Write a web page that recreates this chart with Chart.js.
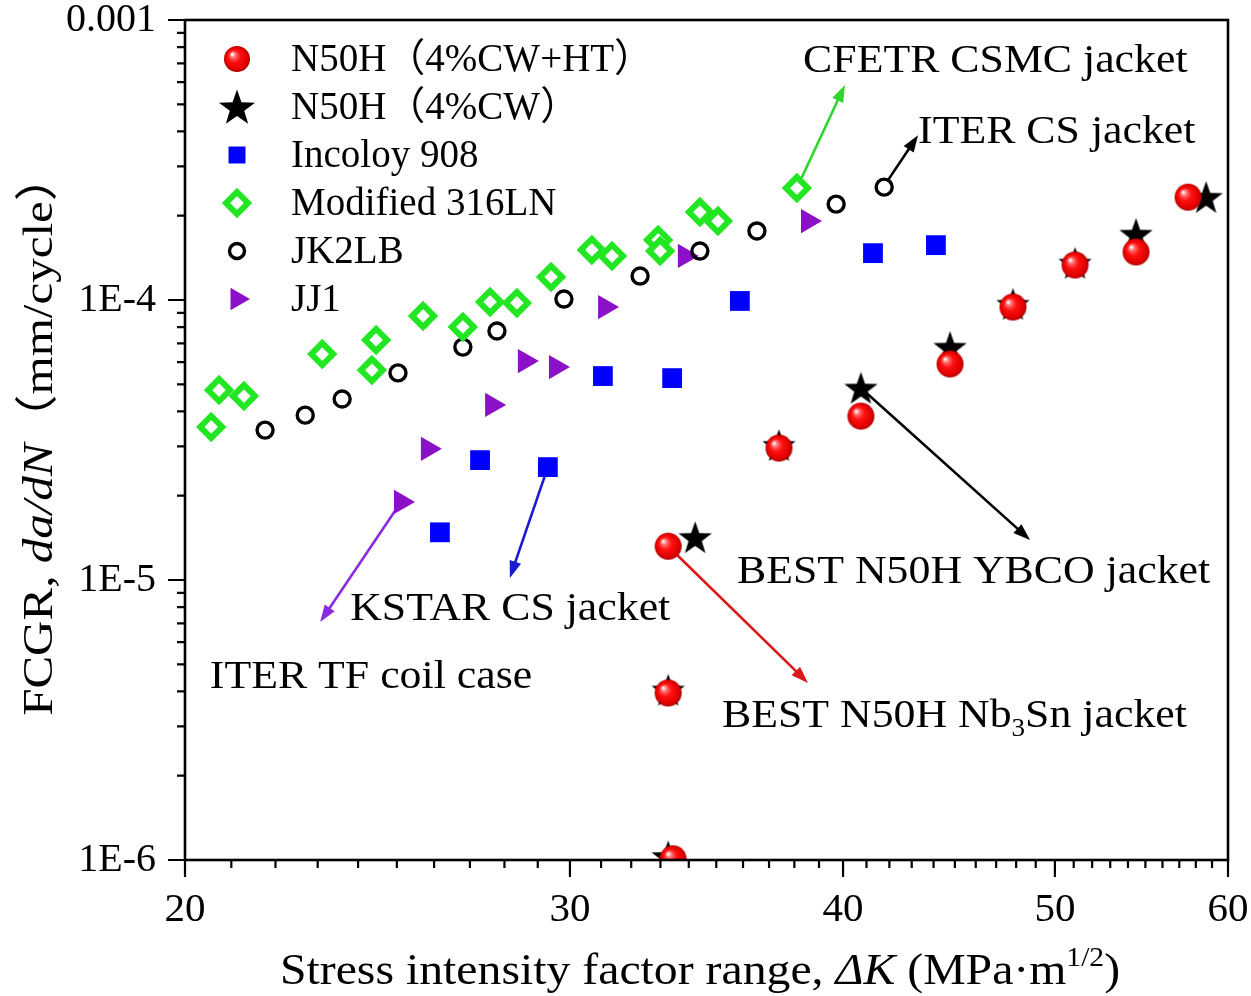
<!DOCTYPE html>
<html>
<head>
<meta charset="utf-8">
<script src="https://cdn.jsdelivr.net/npm/chart.js@4.4.1/dist/chart.umd.min.js"></script>
<style>
  html, body { margin: 0; padding: 0; background: #ffffff; }
  canvas { display: block; }
</style>
</head>
<body>
<canvas id="fcgr" width="1251" height="996"></canvas>
<script>
// ---- data: stress intensity factor range ΔK (MPa·m^1/2) vs. da/dN (mm/cycle) ----
const cwhtK   = [33.27, 33.27, 33.44, 37.39, 40.76, 44.77, 47.84, 51.07, 54.46, 57.53];
const cwhtRate = [1.32e-5, 3.95e-6, 1.01e-6, 2.96e-5, 3.85e-5, 5.91e-5, 9.44e-5, 1.334e-4, 1.484e-4, 2.33e-4];

const cwK    = [34.23, 33.27, 33.27, 37.39, 40.76, 44.77, 47.84, 51.07, 54.46, 58.63];
const cwRate = [1.42e-5, 4.05e-6, 1.03e-6, 3.03e-5, 4.85e-5, 6.79e-5, 9.67e-5, 1.356e-4, 1.72e-4, 2.33e-4];

const incoloyK    = [26.16, 27.29, 29.31, 31.06, 33.41, 35.88, 41.28, 44.11];
const incoloyRate = [1.48e-5, 2.68e-5, 2.53e-5, 5.35e-5, 5.26e-5, 9.92e-5, 1.47e-4, 1.57e-4];

const ss316K    = [20.56, 20.73, 21.28, 23.11, 24.46, 24.35, 25.70, 26.80, 27.58, 28.37, 29.41, 30.70, 31.36, 32.92, 32.99, 34.40, 35.06, 38.10];
const ss316Rate = [3.52e-5, 4.77e-5, 4.54e-5, 6.41e-5, 7.20e-5, 5.62e-5, 8.77e-5, 8.01e-5, 9.84e-5, 9.76e-5, 1.209e-4, 1.51e-4, 1.436e-4, 1.638e-4, 1.496e-4, 2.06e-4, 1.914e-4, 2.51e-4];

const jk2lbK    = [21.76, 22.70, 23.60, 25.03, 26.80, 27.78, 29.81, 32.30, 34.40, 36.53, 39.71, 41.77];
const jk2lbRate = [3.43e-5, 3.88e-5, 4.43e-5, 5.49e-5, 6.79e-5, 7.75e-5, 1.008e-4, 1.218e-4, 1.496e-4, 1.764e-4, 2.20e-4, 2.53e-4];

const jj1K    = [25.11, 25.83, 27.64, 28.61, 29.56, 31.13, 33.86, 38.55];
const jj1Rate = [1.90e-5, 2.94e-5, 4.22e-5, 6.05e-5, 5.76e-5, 9.44e-5, 1.436e-4, 1.914e-4];

const seriesNames = ['N50H（4%CW+HT）', 'N50H（4%CW）', 'Incoloy 908', 'Modified 316LN', 'JK2LB', 'JJ1'];

// ---- axes ----
const xTickValues = [20, 30, 40, 50, 60];
const xTickLabels = ['20', '30', '40', '50', '60'];
const yTickValues = [1e-6, 1e-5, 1e-4, 1e-3];
const yTickLabels = ['1E-6', '1E-5', '1E-4', '0.001'];
const xMinorTicks = [21, 22, 23, 24, 25, 26, 27, 28, 29, 31, 32, 33, 34, 35, 36, 37, 38, 39,
                     41, 42, 43, 44, 45, 46, 47, 48, 49, 51, 52, 53, 54, 55, 56, 57, 58, 59];
const yMinorMantissa = [2, 3, 4, 5, 6, 7, 8, 9];
const yDecades = [1e-6, 1e-5, 1e-4];

const SERIF = '"Liberation Serif", "Times New Roman", "Noto Sans CJK SC", serif';

// ---- annotation callouts (anchored in data units) ----
const callouts = [
  { label: [{ t: 'CFETR CSMC jacket' }], at: [38.35, 6.52e-4], from: [38.10, 2.51e-4], to: [40.08, 5.86e-4], color: '#2fd62f' },
  { label: [{ t: 'ITER CS jacket' }], at: [43.29, 3.64e-4], from: [41.94, 2.68e-4], to: [43.29, 3.88e-4], color: '#000000' },
  { label: [{ t: 'BEST N50H YBCO jacket' }], at: [35.77, 9.75e-6], from: [40.76, 4.85e-5], to: [48.71, 1.39e-5], color: '#000000' },
  { label: [{ t: 'BEST N50H Nb' }, { t: '3', sub: true }, { t: 'Sn jacket' }], at: [35.21, 2.99e-6], from: [33.27, 1.32e-5], to: [38.55, 4.29e-6], color: '#dd1818' },
  { label: [{ t: 'KSTAR CS jacket' }], at: [23.80, 7.2e-6], from: [29.31, 2.53e-5], to: [28.16, 1.017e-5], color: '#1a1ad0' },
  { label: [{ t: 'ITER TF coil case' }], at: [20.53, 4.11e-6], from: [25.11, 1.90e-5], to: [23.06, 7.08e-6], color: '#8a2be2' }
];

// ---- marker sprites ----
function makeSphere(r) {
  const c = document.createElement('canvas');
  c.width = c.height = 2 * r + 2;
  const g = c.getContext('2d');
  const m = r + 1;
  const grd = g.createRadialGradient(m - r * 0.38, m - r * 0.38, r * 0.04, m, m, r);
  grd.addColorStop(0, '#ffffff');
  grd.addColorStop(0.18, '#ff7070');
  grd.addColorStop(0.45, '#ff1010');
  grd.addColorStop(0.85, '#e00000');
  grd.addColorStop(1, '#a80000');
  g.fillStyle = grd;
  g.beginPath();
  g.arc(m, m, r, 0, Math.PI * 2);
  g.fill();
  return c;
}
function makeStar(R, ri) {
  const c = document.createElement('canvas');
  c.width = c.height = 2 * R + 2;
  const g = c.getContext('2d');
  const m = R + 1;
  g.fillStyle = '#000000';
  g.beginPath();
  for (let i = 0; i < 10; i++) {
    const rad = (i % 2 === 0) ? R : ri;
    const a = -Math.PI / 2 + i * Math.PI / 5;
    const px = m + rad * Math.cos(a), py = m + 1.5 + rad * Math.sin(a);
    if (i === 0) g.moveTo(px, py); else g.lineTo(px, py);
  }
  g.closePath();
  g.fill();
  return c;
}
const sphereImg = makeSphere(13.5);
const starImg = makeStar(17.5, 7);
const sphereLegend = makeSphere(13);
const starLegend = makeStar(19, 7.6);

function pairs(xs, ys) { return xs.map((x, i) => ({ x: x, y: ys[i] })); }

// ---- rich text helper (italic / sup / sub segments, optional horizontal stretch) ----
function segFont(s, size) {
  const sz = (s.sup || s.sub) ? size * 0.62 : size;
  return (s.italic ? 'italic ' : '') + sz + 'px ' + SERIF;
}
function drawRich(ctx, segs, x, y, size, align, sx) {
  sx = sx || 1;
  let total = 0;
  segs.forEach(s => { ctx.font = segFont(s, size); total += ctx.measureText(s.t).width; });
  ctx.save();
  ctx.translate(x, y);
  ctx.scale(sx, 1);
  let cx = align === 'center' ? -total / 2 : 0;
  ctx.textBaseline = 'alphabetic';
  ctx.textAlign = 'left';
  segs.forEach(s => {
    ctx.font = segFont(s, size);
    const dy = s.sup ? -size * 0.42 : (s.sub ? size * 0.22 : 0);
    ctx.fillText(s.t, cx, dy);
    cx += ctx.measureText(s.t).width;
  });
  ctx.restore();
}
function arrow(ctx, x1, y1, x2, y2, color) {
  const ang = Math.atan2(y2 - y1, x2 - x1);
  const hl = 17, hw = 6;
  ctx.save();
  ctx.strokeStyle = color;
  ctx.fillStyle = color;
  ctx.lineWidth = 2.6;
  ctx.beginPath();
  ctx.moveTo(x1, y1);
  ctx.lineTo(x2 - hl * 0.8 * Math.cos(ang), y2 - hl * 0.8 * Math.sin(ang));
  ctx.stroke();
  ctx.beginPath();
  ctx.moveTo(x2, y2);
  ctx.lineTo(x2 - hl * Math.cos(ang) + hw * Math.sin(ang), y2 - hl * Math.sin(ang) - hw * Math.cos(ang));
  ctx.lineTo(x2 - hl * Math.cos(ang) - hw * Math.sin(ang), y2 - hl * Math.sin(ang) + hw * Math.cos(ang));
  ctx.closePath();
  ctx.fill();
  ctx.restore();
}

// ---- plugin: frame, tick marks, axis titles, legend, callouts ----
const decorations = {
  id: 'decorations',
  beforeDatasetsDraw(chart) {
    const { ctx, scales: { x, y } } = chart;
    callouts.forEach(c => {
      arrow(ctx, x.getPixelForValue(c.from[0]), y.getPixelForValue(c.from[1]),
                 x.getPixelForValue(c.to[0]), y.getPixelForValue(c.to[1]), c.color);
    });
  },
  afterDatasetsDraw(chart) {
    const { ctx, chartArea: a, scales: { x, y } } = chart;
    ctx.save();
    // frame
    ctx.strokeStyle = '#000';
    ctx.lineWidth = 2.6;
    ctx.strokeRect(a.left, a.top, a.right - a.left, a.bottom - a.top);
    // tick marks
    ctx.lineWidth = 2.2;
    ctx.beginPath();
    xTickValues.forEach(v => { const px = x.getPixelForValue(v); ctx.moveTo(px, a.bottom); ctx.lineTo(px, a.bottom + 17); });
    xMinorTicks.forEach(v => { const px = x.getPixelForValue(v); ctx.moveTo(px, a.bottom); ctx.lineTo(px, a.bottom + 8); });
    yTickValues.forEach(v => { const py = y.getPixelForValue(v); ctx.moveTo(a.left, py); ctx.lineTo(a.left - 17, py); });
    yDecades.forEach(d => yMinorMantissa.forEach(m => {
      const py = y.getPixelForValue(m * d); ctx.moveTo(a.left, py); ctx.lineTo(a.left - 8, py);
    }));
    ctx.stroke();

    // callout labels
    ctx.fillStyle = '#000';
    callouts.forEach(c => {
      drawRich(ctx, c.label, x.getPixelForValue(c.at[0]), y.getPixelForValue(c.at[1]), 40, 'left', 1.095);
    });

    // axis titles
    drawRich(ctx, [{ t: 'Stress intensity factor range, ' }, { t: 'ΔK', italic: true }, { t: ' (MPa·m' }, { t: '1/2', sup: true }, { t: ')' }],
      700, 984, 44, 'center', 1.085);
    ctx.save();
    ctx.translate(52, 434);
    ctx.rotate(-Math.PI / 2);
    drawRich(ctx, [{ t: 'FCGR, ' }, { t: 'da/dN', italic: true }, { t: '（mm/cycle）' }], 0, 0, 43, 'center', 1.14);
    ctx.restore();

    // legend
    const rowTop = a.top + 39, rowGap = 48, markX = a.left + 52, textX = a.left + 106;
    chart.data.datasets.forEach((ds, i) => {
      const cy = rowTop + i * rowGap;
      ctx.save();
      ctx.fillStyle = ds.pointBackgroundColor;
      ctx.strokeStyle = ds.pointBorderColor;
      ctx.lineWidth = ds.pointBorderWidth;
      let style = ds.pointStyle;
      if (style === sphereImg) style = sphereLegend;
      if (style === starImg) style = starLegend;
      Chart.helpers.drawPoint(ctx, {
        pointStyle: style, radius: ds.legendRadius, rotation: ds.pointRotation || 0, borderWidth: ds.pointBorderWidth
      }, markX, cy);
      ctx.restore();
      ctx.fillStyle = '#000';
      ctx.font = '39px ' + SERIF;
      ctx.textAlign = 'left';
      ctx.textBaseline = 'middle';
      ctx.fillText(ds.label, textX, cy + 2);
    });
    ctx.restore();
  }
};

new Chart(document.getElementById('fcgr'), {
  type: 'scatter',
  data: {
    datasets: [
      { label: seriesNames[0], data: pairs(cwhtK, cwhtRate), pointStyle: sphereImg, pointRadius: 13, legendRadius: 13,
        pointBackgroundColor: '#ff0000', pointBorderColor: '#ff0000', pointBorderWidth: 0, clip: 0 },
      { label: seriesNames[1], data: pairs(cwK, cwRate), pointStyle: starImg, pointRadius: 17, legendRadius: 18,
        pointBackgroundColor: '#000000', pointBorderColor: '#000000', pointBorderWidth: 0, clip: 0 },
      { label: seriesNames[2], data: pairs(incoloyK, incoloyRate), pointStyle: 'rect', pointRadius: 14, legendRadius: 12,
        pointBackgroundColor: '#0000ff', pointBorderColor: '#0000ff', pointBorderWidth: 0, clip: 0 },
      { label: seriesNames[3], data: pairs(ss316K, ss316Rate), pointStyle: 'rectRot', pointRadius: 11, legendRadius: 11,
        pointBackgroundColor: '#ffffff', pointBorderColor: '#22e622', pointBorderWidth: 6, clip: 0 },
      { label: seriesNames[4], data: pairs(jk2lbK, jk2lbRate), pointStyle: 'circle', pointRadius: 8, legendRadius: 7.5,
        pointBackgroundColor: 'rgba(255,255,255,0)', pointBorderColor: '#000000', pointBorderWidth: 3.4, clip: 0 },
      { label: seriesNames[5], data: pairs(jj1K, jj1Rate), pointStyle: 'triangle', pointRotation: 90, pointRadius: 14, legendRadius: 13,
        pointBackgroundColor: '#8b10c8', pointBorderColor: '#8b10c8', pointBorderWidth: 0, clip: 0 }
    ]
  },
  options: {
    responsive: false,
    animation: false,
    devicePixelRatio: 1,
    layout: { padding: { left: 0, top: 20, right: 23, bottom: 0 } },
    plugins: { legend: { display: false }, tooltip: { enabled: false } },
    scales: {
      x: {
        type: 'logarithmic', min: 20, max: 60,
        grid: { display: false, drawTicks: false },
        border: { display: false },
        ticks: {
          padding: 26, color: '#000', font: { family: SERIF, size: 41 },
          maxRotation: 0, autoSkip: false,
          callback: (v, i) => xTickLabels[i]
        },
        afterBuildTicks: s => { s.ticks = xTickValues.map(v => ({ value: v })); },
        afterFit: s => { s.height = 136; s.paddingLeft = 0; s.paddingRight = 0; }
      },
      y: {
        type: 'logarithmic', min: 1e-6, max: 1e-3,
        grid: { display: false, drawTicks: false },
        border: { display: false },
        ticks: {
          padding: 29, color: '#000', font: { family: SERIF, size: 40 },
          autoSkip: false,
          callback: (v, i) => yTickLabels[i]
        },
        afterBuildTicks: s => { s.ticks = yTickValues.map(v => ({ value: v })); },
        afterFit: s => { s.width = 185; s.paddingTop = 0; s.paddingBottom = 0; }
      }
    }
  },
  plugins: [decorations]
});
</script>
</body>
</html>
